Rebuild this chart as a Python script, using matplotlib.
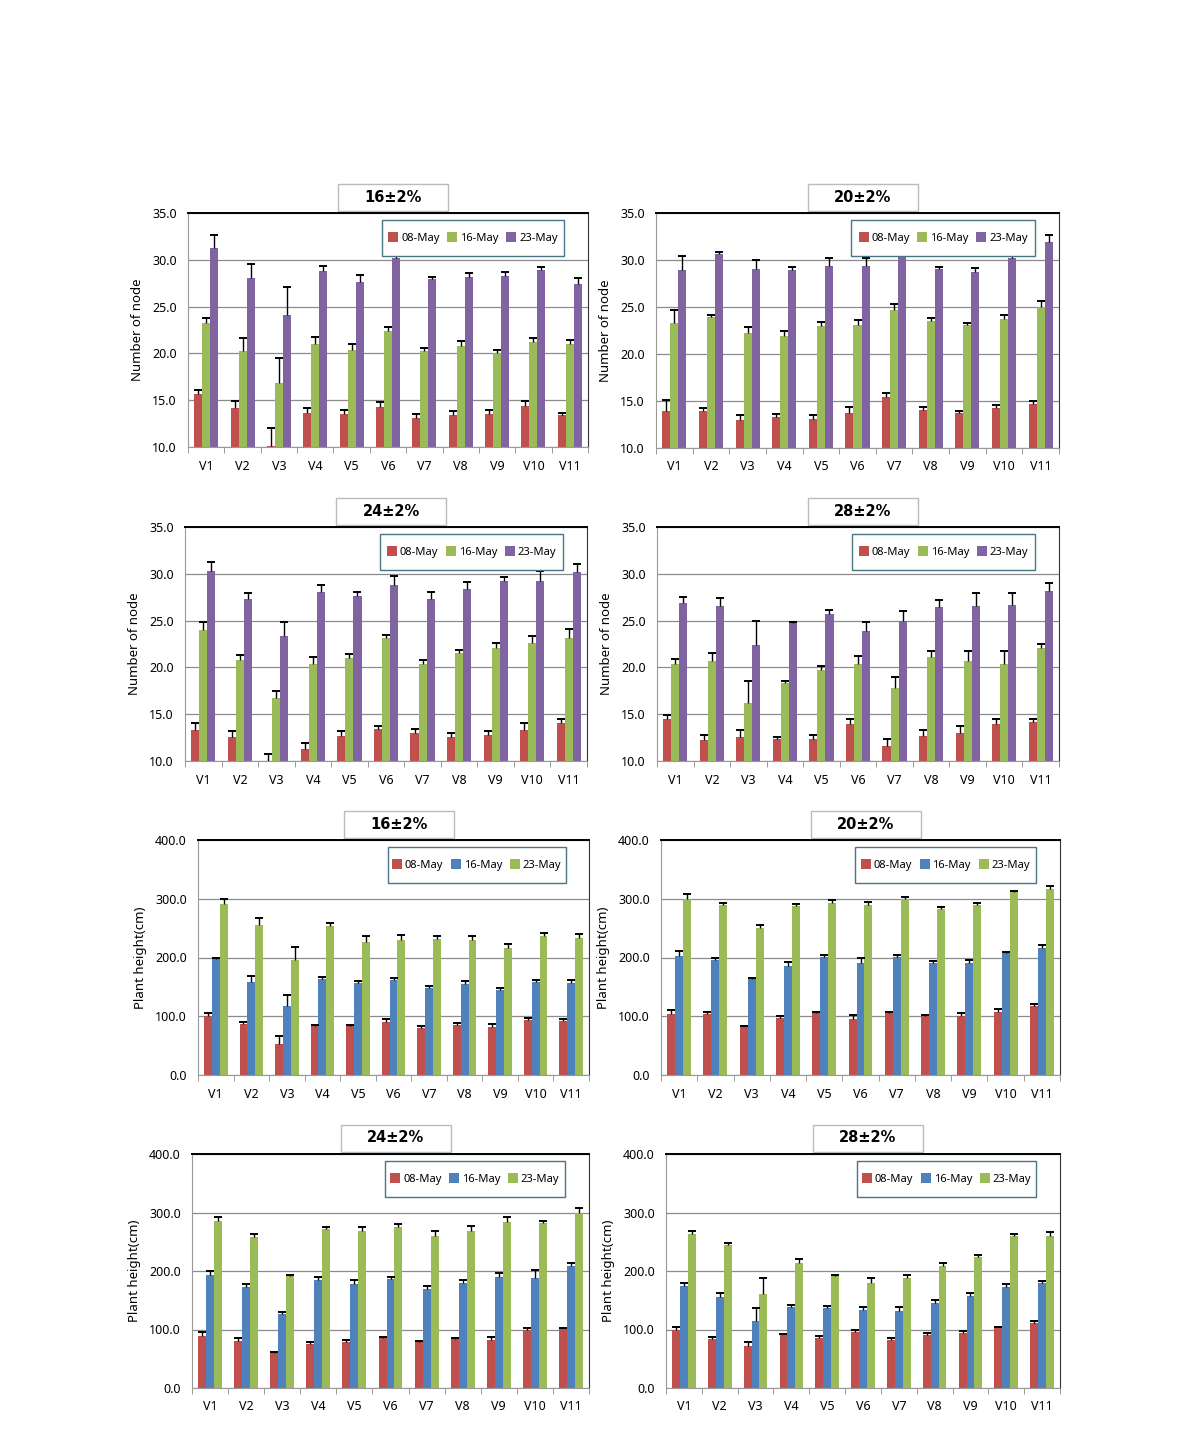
import numpy as np
import matplotlib
matplotlib.use("Agg")
import matplotlib.pyplot as plt
from matplotlib.patches import Rectangle

plt.rcParams['font.family'] = ['Noto Sans', 'DejaVu Sans']

varieties = ["V1", "V2", "V3", "V4", "V5", "V6", "V7", "V8", "V9", "V10", "V11"]
dates = ["08-May", "16-May", "23-May"]

# ---- Number of node ----
n16_08 = [15.7, 14.2, 10.1, 13.6, 13.5, 14.3, 13.1, 13.4, 13.5, 14.4, 13.4]
n16_08_err = [0.4, 0.7, 1.9, 0.6, 0.4, 0.5, 0.4, 0.4, 0.4, 0.5, 0.2]
n16_16 = [23.3, 20.3, 16.8, 21.0, 20.4, 22.4, 20.3, 20.8, 20.0, 21.2, 21.0]
n16_16_err = [0.5, 1.3, 2.7, 0.8, 0.6, 0.4, 0.3, 0.5, 0.4, 0.4, 0.4]
n16_23 = [31.3, 28.1, 24.1, 28.8, 27.6, 30.2, 27.9, 28.2, 28.3, 28.9, 27.4]
n16_23_err = [1.4, 1.4, 3.0, 0.5, 0.8, 0.5, 0.3, 0.4, 0.4, 0.3, 0.7]

n20_08 = [13.9, 13.9, 13.0, 13.3, 13.1, 13.7, 15.4, 14.0, 13.7, 14.3, 14.7]
n20_08_err = [1.2, 0.4, 0.5, 0.3, 0.4, 0.7, 0.5, 0.4, 0.2, 0.3, 0.3]
n20_16 = [23.3, 23.9, 22.2, 21.9, 23.0, 23.1, 24.7, 23.5, 23.1, 23.7, 25.0]
n20_16_err = [1.4, 0.3, 0.7, 0.5, 0.4, 0.5, 0.6, 0.3, 0.2, 0.4, 0.6]
n20_23 = [28.9, 30.6, 29.0, 28.9, 29.4, 29.4, 30.4, 29.0, 28.7, 30.2, 31.9]
n20_23_err = [1.5, 0.3, 1.0, 0.4, 0.8, 0.8, 0.5, 0.3, 0.4, 0.5, 0.8]

n24_08 = [13.3, 12.6, 10.0, 11.3, 12.7, 13.4, 13.0, 12.6, 12.8, 13.3, 14.1]
n24_08_err = [0.8, 0.6, 0.8, 0.6, 0.5, 0.3, 0.4, 0.4, 0.4, 0.8, 0.4]
n24_16 = [24.0, 20.8, 16.7, 20.4, 21.0, 23.1, 20.4, 21.5, 22.1, 22.6, 23.1]
n24_16_err = [0.9, 0.5, 0.8, 0.7, 0.4, 0.4, 0.4, 0.4, 0.5, 0.8, 1.0]
n24_23 = [30.3, 27.3, 23.4, 28.1, 27.6, 28.8, 27.3, 28.4, 29.2, 29.2, 30.2]
n24_23_err = [1.0, 0.7, 1.4, 0.7, 0.5, 1.0, 0.8, 0.7, 0.5, 1.1, 0.8]

n28_08 = [14.5, 12.2, 12.6, 12.3, 12.3, 13.9, 11.6, 12.7, 13.0, 13.9, 14.2]
n28_08_err = [0.4, 0.6, 0.7, 0.3, 0.5, 0.6, 0.8, 0.6, 0.7, 0.6, 0.3]
n28_16 = [20.4, 20.7, 16.2, 18.3, 19.7, 20.4, 17.8, 21.1, 20.7, 20.4, 22.1]
n28_16_err = [0.5, 0.8, 2.4, 0.2, 0.5, 0.8, 1.2, 0.7, 1.0, 1.3, 0.4]
n28_23 = [26.9, 26.6, 22.4, 24.7, 25.7, 23.9, 25.0, 26.5, 26.6, 26.7, 28.2]
n28_23_err = [0.6, 0.8, 2.6, 0.2, 0.4, 1.0, 1.0, 0.7, 1.3, 1.3, 0.8]

# ---- Plant height (cm) ----
h16_08 = [101, 87, 53, 84, 83, 91, 80, 85, 82, 94, 92]
h16_08_err = [4, 4, 14, 1, 2, 4, 4, 4, 4, 3, 4]
h16_16 = [198, 159, 117, 164, 157, 162, 148, 155, 145, 158, 157]
h16_16_err = [2, 9, 19, 2, 3, 3, 3, 5, 3, 4, 5]
h16_23 = [291, 256, 196, 253, 226, 229, 232, 230, 217, 236, 234]
h16_23_err = [8, 12, 22, 6, 10, 9, 5, 7, 6, 5, 6]

h20_08 = [103, 103, 83, 97, 105, 96, 106, 101, 101, 108, 117]
h20_08_err = [7, 4, 1, 3, 3, 6, 2, 0.5, 4, 4, 4]
h20_16 = [202, 195, 164, 186, 201, 191, 201, 190, 190, 207, 217]
h20_16_err = [9, 5, 1, 7, 4, 8, 4, 4, 6, 3, 4]
h20_23 = [300, 290, 250, 287, 292, 290, 299, 282, 289, 311, 317]
h20_23_err = [8, 2, 5, 4, 6, 4, 4, 4, 4, 3, 5]

h24_08 = [89, 81, 60, 75, 78, 86, 78, 83, 82, 99, 102]
h24_08_err = [6, 4, 1, 3, 4, 1, 2, 3, 5, 3, 1]
h24_16 = [194, 172, 127, 184, 178, 187, 170, 180, 190, 188, 209]
h24_16_err = [6, 5, 3, 5, 6, 3, 4, 4, 6, 13, 5]
h24_23 = [285, 258, 191, 272, 269, 276, 260, 268, 283, 282, 300]
h24_23_err = [7, 5, 2, 4, 7, 5, 9, 9, 9, 4, 8]

h28_08 = [100, 84, 71, 92, 86, 96, 82, 90, 94, 104, 111]
h28_08_err = [4, 4, 8, 1, 3, 3, 3, 4, 4, 1, 3]
h28_16 = [175, 155, 115, 139, 137, 134, 132, 146, 158, 173, 180]
h28_16_err = [5, 7, 22, 3, 3, 5, 6, 4, 4, 5, 3]
h28_23 = [264, 244, 161, 214, 191, 180, 188, 209, 224, 259, 259]
h28_23_err = [5, 4, 27, 7, 2, 8, 6, 4, 4, 5, 7]

red, green, purple, blue = "#C0504D", "#9BBB59", "#8064A2", "#4F81BD"

W, H = 1190, 1451
fig = plt.figure(figsize=(W / 100, H / 100), dpi=100)
fig.patch.set_facecolor("white")

# panel pixel boxes (left, top, right, bottom)
panels = [
    ("16±2%", (188, 213, 588, 447), [n16_08, n16_16, n16_23], [n16_08_err, n16_16_err, n16_23_err], "node"),
    ("20±2%", (656, 213, 1059, 448), [n20_08, n20_16, n20_23], [n20_08_err, n20_16_err, n20_23_err], "node"),
    ("24±2%", (185, 527, 587, 761), [n24_08, n24_16, n24_23], [n24_08_err, n24_16_err, n24_23_err], "node"),
    ("28±2%", (657, 527, 1059, 761), [n28_08, n28_16, n28_23], [n28_08_err, n28_16_err, n28_23_err], "node"),
    ("16±2%", (198, 840, 589, 1075), [h16_08, h16_16, h16_23], [h16_08_err, h16_16_err, h16_23_err], "height"),
    ("20±2%", (661, 840, 1060, 1075), [h20_08, h20_16, h20_23], [h20_08_err, h20_16_err, h20_23_err], "height"),
    ("24±2%", (192, 1154, 589, 1388), [h24_08, h24_16, h24_23], [h24_08_err, h24_16_err, h24_23_err], "height"),
    ("28±2%", (666, 1154, 1060, 1388), [h28_08, h28_16, h28_23], [h28_08_err, h28_16_err, h28_23_err], "height"),
]

x = np.arange(len(varieties))
bw = 0.22

for title, (l, t, r, b), series, errs, kind in panels:
    ax = fig.add_axes([l / W, 1 - b / H, (r - l) / W, (b - t) / H])
    if kind == "node":
        colors = [red, green, purple]
        ax.set_ylim(10, 35)
        ax.set_yticks(np.arange(10, 35.1, 5))
        ax.set_ylabel("Number of node", fontsize=9.5, labelpad=6)
    else:
        colors = [red, blue, green]
        ax.set_ylim(0, 400)
        ax.set_yticks(np.arange(0, 401, 100))
        ax.set_ylabel("Plant height(cm)", fontsize=9.5, labelpad=6)

    for i in range(3):
        pos = x + (i - 1) * bw
        vals = np.array(series[i], dtype=float)
        top = vals + np.array(errs[i], dtype=float)
        ax.bar(pos, vals, bw, color=colors[i], label=dates[i], zorder=2)
        # upper error bar only (stem + cap on top)
        ax.errorbar(pos, vals, yerr=[np.zeros(len(x)), errs[i]], fmt="none",
                    ecolor="black", elinewidth=1, capsize=0, zorder=3)
        ax.plot(pos, top, linestyle="none", marker="_", markersize=6,
                markeredgewidth=1.4, color="black", zorder=3)

    ax.set_xlim(-0.5, len(x) - 0.5)
    ax.set_xticks(x)
    ax.set_xticklabels(varieties, fontsize=9)
    ax.set_xticks(np.arange(-0.5, len(x), 1), minor=True)
    ax.tick_params(axis="x", which="major", length=0, pad=9)
    ax.tick_params(axis="x", which="minor", length=4, color="#888888", direction="out")
    ax.tick_params(axis="y", length=0, labelsize=9, pad=8)
    ax.yaxis.set_major_formatter(matplotlib.ticker.FormatStrFormatter("%.1f"))

    ax.set_axisbelow(True)
    ax.yaxis.grid(True, color="#8c8c8c", lw=0.9)
    ax.spines["top"].set_color("black")
    ax.spines["top"].set_linewidth(1.4)
    ax.spines["right"].set_color("#333333")
    ax.spines["right"].set_linewidth(0.8)
    ax.spines["left"].set_color("#999999")
    ax.spines["bottom"].set_color("#999999")

    # legend: drawn frameless inside a fixed-size box
    lx, ly, lw_, lh = 0.485, 0.815, 0.455, 0.155
    ax.add_patch(Rectangle((lx, ly), lw_, lh, transform=ax.transAxes, facecolor="white",
                           edgecolor="#4A7585", lw=1.0, zorder=4))
    leg = ax.legend(loc="center", bbox_to_anchor=(lx + lw_ / 2, ly + lh / 2),
                    ncol=3, fontsize=8, frameon=False, borderaxespad=0, borderpad=0,
                    handlelength=0.9, handleheight=1.0, handletextpad=0.25,
                    columnspacing=0.7)
    leg.set_zorder(5)

    # boxed title above each panel
    aw, ah = r - l, b - t
    bx_w, bx_h = 110 / aw, 27 / ah
    cx = 0.5 + 5 / aw
    cy = 1 + 16 / ah
    ax.add_patch(Rectangle((cx - bx_w / 2, cy - bx_h / 2), bx_w, bx_h, transform=ax.transAxes,
                           facecolor="white", edgecolor="#BBBBBB", lw=1, clip_on=False))
    ax.text(cx, cy, title, transform=ax.transAxes, ha="center", va="center",
            fontsize=10.5, fontweight="bold", family="DejaVu Sans")

fig.savefig("out.png", dpi=100)
